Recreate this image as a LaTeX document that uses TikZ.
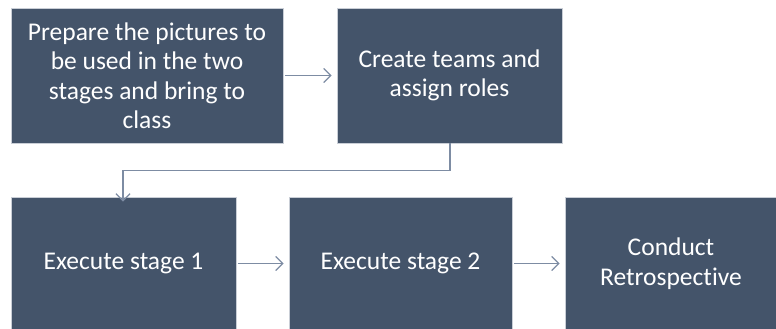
\documentclass[tikz,border=0pt]{standalone}
\usepackage{fontspec}
\setmainfont{Carlito}[Ligatures=NoCommon]
\usetikzlibrary{arrows.meta}
\definecolor{boxfill}{HTML}{44546A}
\definecolor{boxline}{HTML}{C9CED6}
\definecolor{conn}{HTML}{7D8CA3}
\tikzset{
  stepbox/.style={draw=boxline, line width=0.8pt, fill=boxfill, text=white,
    inner sep=0pt, align=center, font=\fontsize{25.5}{29.5}\selectfont},
  conarrow/.style={draw=conn, line width=1.3pt, -{Straight Barb[length=7pt,width=14pt,line width=1.3pt]}}
}
\begin{document}
\begin{tikzpicture}[x=1pt,y=-1pt]
\useasboundingbox (0,0) rectangle (776,329);
\node[stepbox, minimum width=272pt, minimum height=135pt] (a) at (147,75.5)
  {Prepare the pictures to\\be used in the two\\stages and bring to\\class};
\node[stepbox, minimum width=225pt, minimum height=135pt] (b) at (449.5,75.5)
  {Create teams and\\assign roles};
\node[stepbox, minimum width=225pt, minimum height=133pt] (c) at (123.5,263.5)
  {Execute stage 1};
\node[stepbox, minimum width=223pt, minimum height=133pt] (d) at (400.5,263.5)
  {Execute stage 2};
\node[stepbox, minimum width=212pt, minimum height=133pt] (e) at (671,263.5)
  {Conduct\\Retrospective};
\coordinate (k1) at (450,170.5);
\coordinate (k2) at (123,170.5);
\draw[conarrow] ([xshift=1.5pt]a.east) -- ([xshift=-5pt]b.west);
\draw[conarrow] ([xshift=0.5pt]b.south) -- (k1) -- (k2) -- ([yshift=-5pt]c.north -| k2);
\draw[conarrow] ([xshift=1.5pt]c.east) -- ([xshift=-5pt]d.west);
\draw[conarrow] ([xshift=1.5pt]d.east) -- ([xshift=-5pt]e.west);
\end{tikzpicture}
\end{document}
